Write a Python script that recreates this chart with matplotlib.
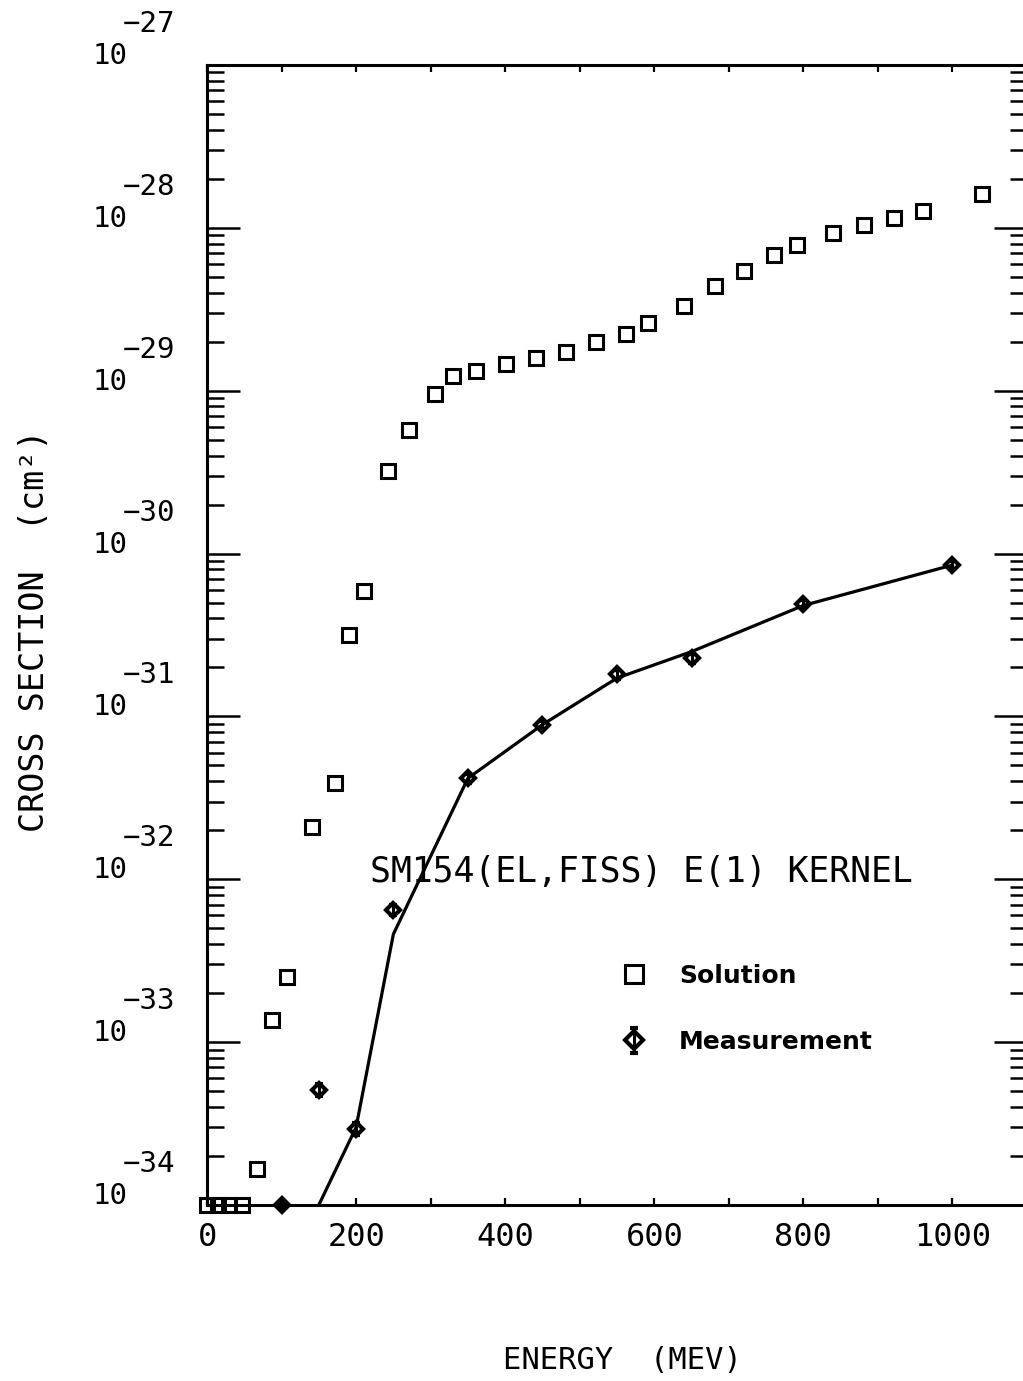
import matplotlib
matplotlib.use("Agg")
import matplotlib.pyplot as plt
import numpy as np
from matplotlib.ticker import LogLocator, MultipleLocator, NullFormatter
from matplotlib.transforms import blended_transform_factory, offset_copy

# solution points (open squares)
solution_energy = [0, 15, 30, 47, 67, 87, 107, 141, 172, 191, 211, 243, 271, 306, 330,
                   361, 401, 442, 482, 522, 562, 592, 640, 682, 721, 761, 792, 840,
                   881, 922, 961, 1040]
solution_sigma = [1.0e-34, 1.0e-34, 1.0e-34, 1.0e-34, 1.66e-34, 1.36e-33, 2.5e-33, 2.08e-32,
                  3.9e-32, 3.15e-31, 5.9e-31, 3.2e-30, 5.75e-30, 9.5e-30, 1.23e-29,
                  1.32e-29, 1.45e-29, 1.59e-29, 1.74e-29, 2.0e-29, 2.24e-29, 2.6e-29,
                  3.3e-29, 4.4e-29, 5.4e-29, 6.8e-29, 7.9e-29, 9.3e-29, 1.04e-28,
                  1.15e-28, 1.27e-28, 1.62e-28]

# measurements (diamonds with error bars)
meas_energy = [100, 150, 200, 250, 350, 450, 550, 650, 800, 1000]
meas_sigma = [1.0e-34, 5.1e-34, 2.94e-34, 6.5e-33, 4.17e-32, 8.9e-32, 1.81e-31,
              2.28e-31, 4.9e-31, 8.5e-31]
meas_rel_err = [0.05, 0.08, 0.08, 0.07, 0.06, 0.06, 0.06, 0.06, 0.06, 0.06]

# kernel curve
curve_energy = [150, 200, 250, 350, 450, 550, 650, 800, 1000]
curve_sigma = [1.0e-34, 3.0e-34, 4.6e-33, 4.17e-32, 8.9e-32, 1.72e-31, 2.5e-31,
               4.8e-31, 8.5e-31]

y_decades = list(range(-34, -26))

plt.rcParams['font.family'] = ['DejaVu Sans Mono']

fig = plt.figure(figsize=(10.23, 13.81), dpi=100)
ax = fig.add_axes([207 / 1023, 1 - 1205 / 1381, 820 / 1023, 1140 / 1381])

ax.plot(curve_energy, curve_sigma, color='black', lw=2.3, zorder=2)

sol, = ax.plot(solution_energy, solution_sigma, linestyle='none', marker='s', ms=10,
               mfc='none', mec='black', mew=2.2, clip_on=False, zorder=3,
               label='Solution')

meas_err = np.array(meas_sigma) * np.array(meas_rel_err)
meas = ax.errorbar(meas_energy, meas_sigma, yerr=meas_err, fmt='D', ms=7, mfc='none',
                   mec='black', mew=3, ecolor='black', elinewidth=2.2, capsize=3,
                   clip_on=False, zorder=4, label='Measurement')

ax.set_yscale('log')
ax.set_ylim(1e-34, 1e-27)
ax.set_xlim(0, 1100)

ax.yaxis.set_major_locator(LogLocator(base=10, numticks=20))
ax.yaxis.set_minor_locator(LogLocator(base=10, subs=np.arange(2, 10), numticks=20))
ax.yaxis.set_minor_formatter(NullFormatter())
ax.tick_params(axis='y', which='major', direction='in', length=24, width=1.8,
               left=True, right=True, labelleft=False)
ax.tick_params(axis='y', which='minor', direction='in', length=12, width=1.8,
               left=True, right=True)

ax.xaxis.set_major_locator(MultipleLocator(200))
ax.xaxis.set_minor_locator(MultipleLocator(100))
ax.tick_params(axis='x', which='both', direction='in', length=5, width=1.6,
               top=True, bottom=True)
ax.tick_params(axis='x', which='major', labelsize=23, pad=12)

for s in ax.spines.values():
    s.set_linewidth(2.2)

# y tick labels drawn as 10 with exponent above
trans = blended_transform_factory(ax.transAxes, ax.transData)
base_trans = offset_copy(trans, fig=fig, y=9, units='dots')
exp_trans = offset_copy(trans, fig=fig, y=41, units='dots')
for k in y_decades:
    ax.text(-0.0963, 10.0 ** k, '10', transform=base_trans, ha='right', va='center',
            fontsize=21, clip_on=False)
    ax.text(-0.1024, 10.0 ** k, '\u2212' + str(abs(k)), transform=exp_trans, ha='left',
            va='center', fontsize=21, clip_on=False)

ax.set_xlabel('ENERGY  (MEV)', fontsize=22, va='center')
ax.xaxis.set_label_coords(0.507, -0.136)
ax.set_ylabel('CROSS SECTION  (cm\u00b2)', fontsize=24, va='center')
ax.yaxis.set_label_coords(-0.21, 0.504)

ax.text(0.199, 0.292, 'SM154(EL,FISS) E(1) KERNEL', transform=ax.transAxes,
        ha='left', va='center', fontsize=25)

ax.legend(handles=[sol, meas], loc='upper left', bbox_to_anchor=(0.5055, 0.2118),
          frameon=False, borderpad=0, borderaxespad=0, handlelength=1.0,
          handletextpad=1.3, labelspacing=1.7, markerscale=1.3,
          prop={'family': 'DejaVu Sans', 'weight': 'bold', 'size': 18})

fig.savefig('out.png', dpi=100)
